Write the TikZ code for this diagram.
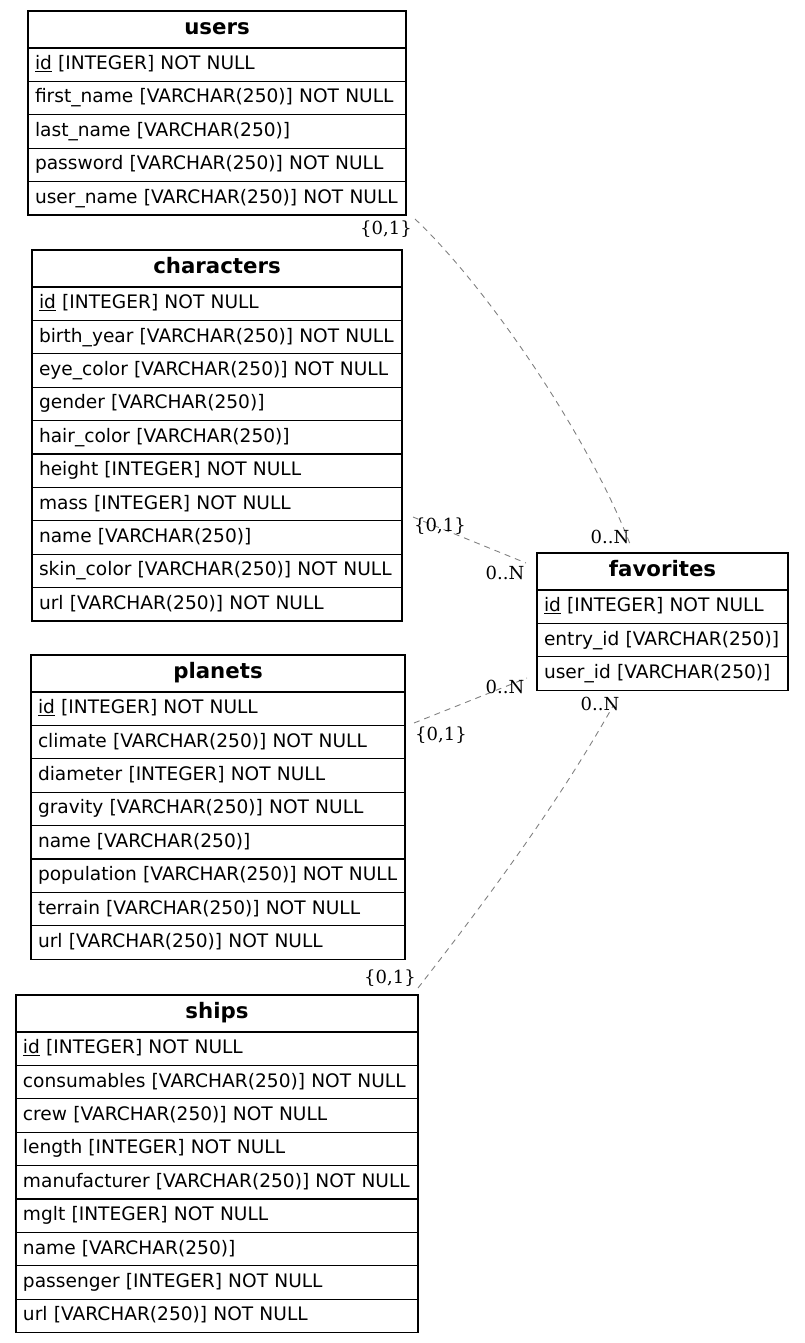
\documentclass[tikz,border=0pt]{standalone}
\usepackage{fontspec}
\setmainfont{DejaVu Sans}
\newfontfamily\cardfont{DejaVu Serif}
\begin{document}
\begin{tikzpicture}[x=1pt,y=-1pt,
  cellbase/.style={anchor=north west, inner xsep=7pt, inner ysep=0pt, outer sep=0pt,
    text height=13.6pt, text depth=3.8pt, font=\fontsize{18.6}{22}\selectfont},
  headcell/.style={cellbase, minimum height=37pt, align=center, text height=15.2pt, text depth=4.4pt,
    font=\fontsize{21.3}{25}\selectfont\bfseries},
  rowcell/.style={cellbase, minimum height=33.4pt, align=left},
  gridline/.style={draw=black, line width=1.1pt, line cap=rect},
  rel/.style={draw=black!50, line width=0.9pt, dash pattern=on 6pt off 5pt},
  card/.style={font=\cardfont\fontsize{18}{20}\selectfont, inner sep=0pt, text=black}]
\useasboundingbox (0,0) rectangle (804,1343);

% an entity table: name, left x, top y, width, title, list of columns
\newcommand\ertable[6]{%
  \pgfmathsetmacro\ertw{#4-14}%
  \node[headcell, text width=\ertw pt] (#1-h) at (#2,#3) {#5};
  \draw[gridline] (#1-h.north west) rectangle (#1-h.south east);
  \foreach \coltext [count=\i] in {#6} {
    \pgfmathsetmacro\erty{#3+37+(\i-1)*33.4}
    \node[rowcell, text width=\ertw pt] (#1-r\i) at (#2,\erty) {\coltext};
    \draw[gridline] (#1-r\i.north west) -- (#1-r\i.south west)
      -- (#1-r\i.south east) -- (#1-r\i.north east);
  }%
}

\ertable{users}{28}{11}{378}{users}{%
  \underline{id} [INTEGER] NOT NULL,
  first\_name [VARCHAR(250)] NOT NULL,
  last\_name [VARCHAR(250)],
  password [VARCHAR(250)] NOT NULL,
  user\_name [VARCHAR(250)] NOT NULL}

\ertable{characters}{32}{250}{370}{characters}{%
  \underline{id} [INTEGER] NOT NULL,
  birth\_year [VARCHAR(250)] NOT NULL,
  eye\_color [VARCHAR(250)] NOT NULL,
  gender [VARCHAR(250)],
  hair\_color [VARCHAR(250)],
  height [INTEGER] NOT NULL,
  mass [INTEGER] NOT NULL,
  name [VARCHAR(250)],
  skin\_color [VARCHAR(250)] NOT NULL,
  url [VARCHAR(250)] NOT NULL}

\ertable{favorites}{537}{553}{251}{favorites}{%
  \underline{id} [INTEGER] NOT NULL,
  entry\_id [VARCHAR(250)],
  user\_id [VARCHAR(250)]}

\ertable{planets}{31}{655}{374}{planets}{%
  \underline{id} [INTEGER] NOT NULL,
  climate [VARCHAR(250)] NOT NULL,
  diameter [INTEGER] NOT NULL,
  gravity [VARCHAR(250)] NOT NULL,
  name [VARCHAR(250)],
  population [VARCHAR(250)] NOT NULL,
  terrain [VARCHAR(250)] NOT NULL,
  url [VARCHAR(250)] NOT NULL}

\ertable{ships}{16}{995}{402}{ships}{%
  \underline{id} [INTEGER] NOT NULL,
  consumables [VARCHAR(250)] NOT NULL,
  crew [VARCHAR(250)] NOT NULL,
  length [INTEGER] NOT NULL,
  manufacturer [VARCHAR(250)] NOT NULL,
  mglt [INTEGER] NOT NULL,
  name [VARCHAR(250)],
  passenger [INTEGER] NOT NULL,
  url [VARCHAR(250)] NOT NULL}

% relationship end points
\coordinate (usersOut) at (415,219);
\coordinate (favUsersIn) at (630,544);
\coordinate (charOut) at (413,517);
\coordinate (favCharIn) at (526,563);
\coordinate (planOut) at (414,723);
\coordinate (favPlanIn) at (527,678);
\coordinate (shipOut) at (418,988);
\coordinate (favShipIn) at (613,706);

% relationships
\draw[rel] (usersOut) .. controls (490,290) and (590,440) .. (favUsersIn);
\draw[rel] (charOut) -- (favCharIn);
\draw[rel] (planOut) -- (favPlanIn);
\draw[rel] (shipOut) .. controls (492,893) and (560,800) .. (favShipIn);

% cardinalities
\node[card] (cUsers) at (386,229) {\{0,1\}};
\node[card] (cFavUsers) at (610,537) {0..N};
\node[card] (cChar) at (440,526) {\{0,1\}};
\node[card] (cFavChar) at (505,573) {0..N};
\node[card] (cFavPlan) at (505,687) {0..N};
\node[card] (cPlan) at (441,735) {\{0,1\}};
\node[card] (cFavShip) at (600,704) {0..N};
\node[card] (cShip) at (390,978) {\{0,1\}};
\end{tikzpicture}
\end{document}
